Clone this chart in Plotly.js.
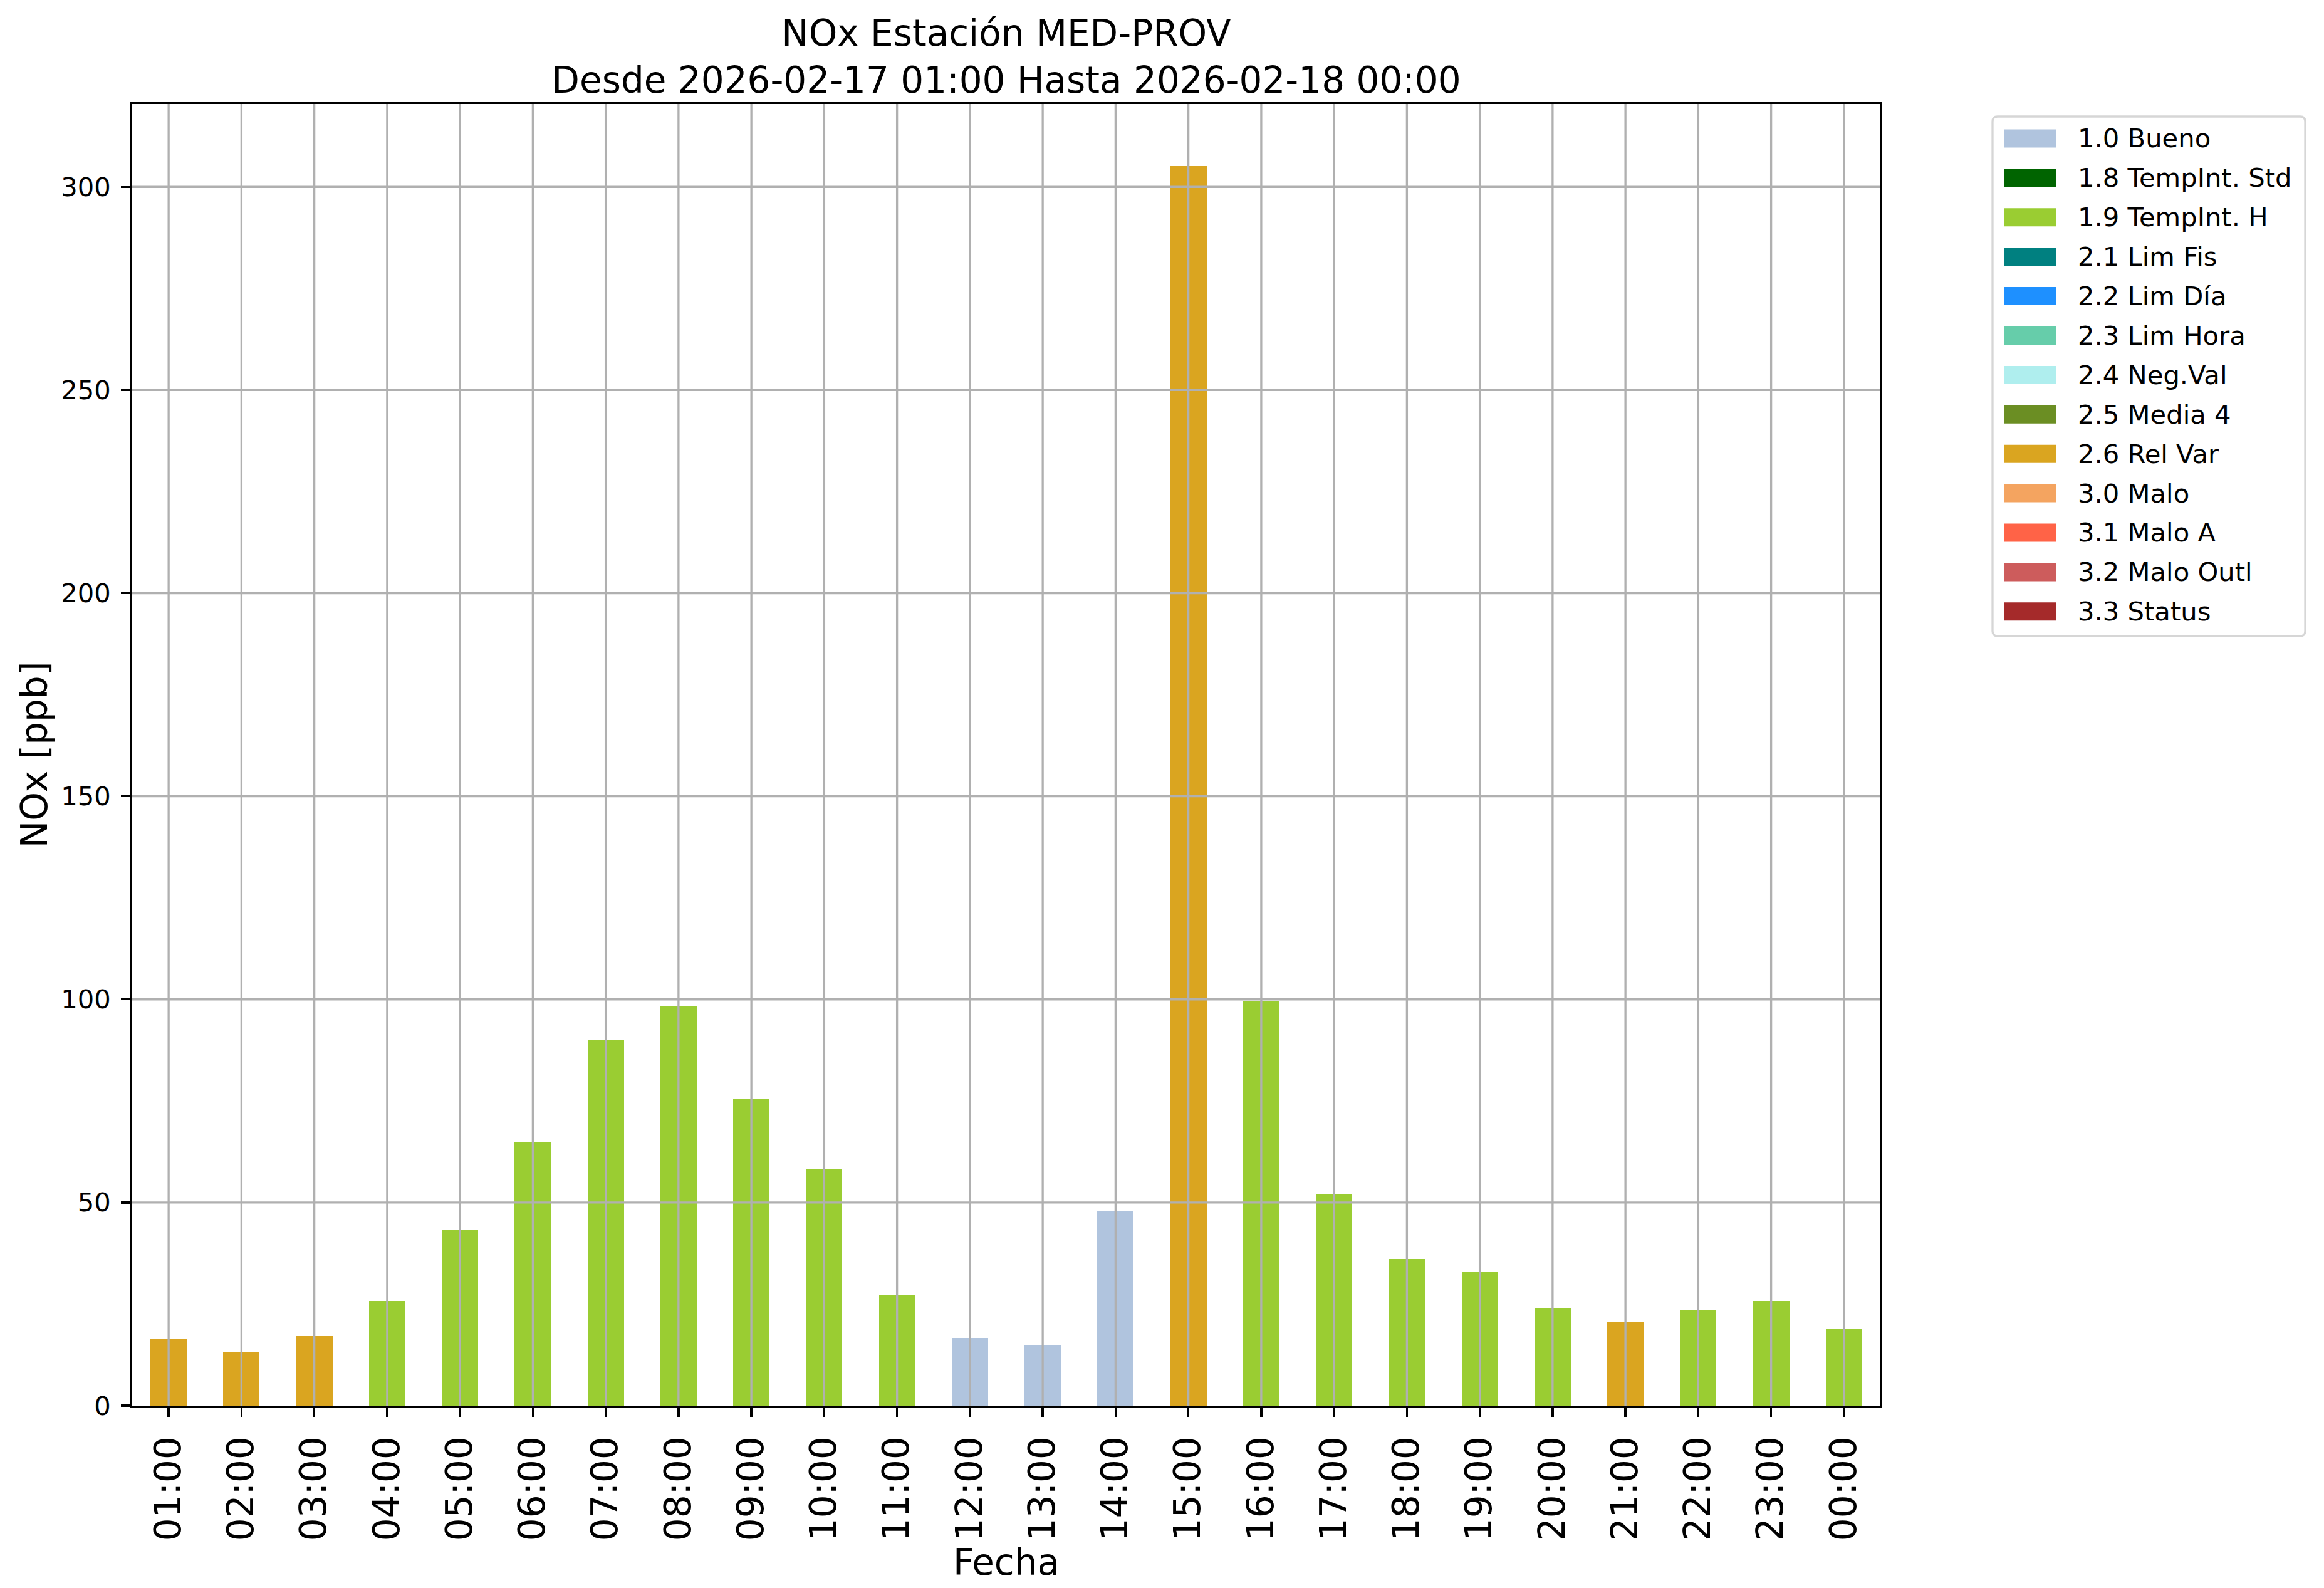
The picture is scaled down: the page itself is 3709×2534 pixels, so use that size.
<!DOCTYPE html>
<html>
<head>
<meta charset="utf-8">
<script src="https://cdn.plot.ly/plotly-3.0.1.min.js"></script>
<style>html,body{margin:0;padding:0;background:#fff;}</style>
</head>
<body>
<div id="chart" style="width:3709px;height:2534px;"></div>
<script>
// ---- DATA ----
const hours = ["01:00","02:00","03:00","04:00","05:00","06:00","07:00","08:00","09:00","10:00","11:00","12:00",
               "13:00","14:00","15:00","16:00","17:00","18:00","19:00","20:00","21:00","22:00","23:00","00:00"];
const noxValues = [16.4, 13.2, 17.2, 25.7, 43.3, 65.0, 90.1, 98.4, 75.6, 58.2, 27.1, 16.7,
                   14.9, 48.0, 305.1, 99.7, 52.2, 36.1, 32.8, 24.0, 20.6, 23.4, 25.7, 19.0];
const hourFlags = ["2.6 Rel Var","2.6 Rel Var","2.6 Rel Var","1.9 TempInt. H","1.9 TempInt. H","1.9 TempInt. H",
                   "1.9 TempInt. H","1.9 TempInt. H","1.9 TempInt. H","1.9 TempInt. H","1.9 TempInt. H","1.0 Bueno",
                   "1.0 Bueno","1.0 Bueno","2.6 Rel Var","1.9 TempInt. H","1.9 TempInt. H","1.9 TempInt. H",
                   "1.9 TempInt. H","1.9 TempInt. H","2.6 Rel Var","1.9 TempInt. H","1.9 TempInt. H","1.9 TempInt. H"];
const flagCategories = ["1.0 Bueno","1.8 TempInt. Std","1.9 TempInt. H","2.1 Lim Fis","2.2 Lim Día","2.3 Lim Hora",
                        "2.4 Neg.Val","2.5 Media 4","2.6 Rel Var","3.0 Malo","3.1 Malo A","3.2 Malo Outl","3.3 Status"];
const flagColors = ["#B0C4DE","#006400","#9ACD32","#008080","#1E90FF","#66CDAA",
                    "#AFEEEE","#6B8E23","#DAA520","#F4A460","#FF6347","#CD5C5C","#A52A2A"];
const yTicks = [0, 50, 100, 150, 200, 250, 300];
const titleText = "NOx Estación MED-PROV<br>Desde 2026-02-17 01:00 Hasta 2026-02-18 00:00";

// ---- LAYOUT GEOMETRY (pixels) ----
const W = 3709, H = 2534;
const L = 211, R = 3001, T = 166, B = 2243;
const pw = R - L, ph = B - T;
const px2x = p => (p - L) / pw;
const py2y = p => (B - p) / ph;
const FONT = "DejaVu Sans, Liberation Sans, sans-serif";
const LW = 3.3;

// ---- TRACES ----
const traces = flagCategories.map((cat, k) => ({
  type: "bar",
  name: cat,
  x: hours,
  y: noxValues.map((v, i) => hourFlags[i] === cat ? v : null),
  width: 0.5,
  marker: {color: flagColors[k], line: {width: 0}},
  showlegend: false,
  hovertemplate: "%{x}: %{y} ppb<extra>" + cat + "</extra>"
}));

// ---- GRID (drawn above bars like matplotlib) ----
const shapes = [];
hours.forEach((h, i) => {
  shapes.push({type: "line", xref: "x", yref: "paper", x0: i, x1: i, y0: 0, y1: 1,
               line: {color: "#b0b0b0", width: LW}, layer: "above"});
});
yTicks.filter(v => v > 0).forEach(v => {
  shapes.push({type: "line", xref: "paper", yref: "y", x0: 0, x1: 1, y0: v, y1: v,
               line: {color: "#b0b0b0", width: LW}, layer: "above"});
});

// ---- MANUAL LEGEND ----
const annotations = [];
const lgX0 = 3180, lgX1 = 3679, lgY0 = 186, lgY1 = 1015, rad = 8;
const P = (x, y) => px2x(x) + "," + py2y(y);
const boxPath = "M" + P(lgX0 + rad, lgY0) + " L" + P(lgX1 - rad, lgY0) +
  " Q" + P(lgX1, lgY0) + " " + P(lgX1, lgY0 + rad) +
  " L" + P(lgX1, lgY1 - rad) + " Q" + P(lgX1, lgY1) + " " + P(lgX1 - rad, lgY1) +
  " L" + P(lgX0 + rad, lgY1) + " Q" + P(lgX0, lgY1) + " " + P(lgX0, lgY1 - rad) +
  " L" + P(lgX0, lgY0 + rad) + " Q" + P(lgX0, lgY0) + " " + P(lgX0 + rad, lgY0) + " Z";
shapes.push({type: "path", xref: "paper", yref: "paper", path: boxPath,
             fillcolor: "rgba(255,255,255,0.8)", line: {color: "#d6d6d6", width: LW}, layer: "above"});
const rowY0 = 221, rowStep = 62.9;
flagCategories.forEach((cat, k) => {
  const cy = rowY0 + k * rowStep;
  shapes.push({type: "rect", xref: "paper", yref: "paper",
               x0: px2x(3198), x1: px2x(3281), y0: py2y(cy - 14.5), y1: py2y(cy + 14.5),
               fillcolor: flagColors[k], line: {width: 0}, layer: "above"});
  annotations.push({xref: "paper", yref: "paper", x: px2x(3314), y: py2y(cy),
                    xanchor: "left", yanchor: "middle", showarrow: false, text: cat,
                    font: {family: FONT, size: 41.7, color: "#000"}});
});

const layout = {
  width: W, height: H,
  paper_bgcolor: "#fff", plot_bgcolor: "#fff",
  margin: {l: L, r: W - R, t: T, b: H - B, pad: 0},
  font: {family: FONT, color: "#000"},
  title: {
    text: titleText,
    font: {family: FONT, size: 58, color: "#000"},
    x: (L + R) / 2 / W, xanchor: "center", xref: "container",
    y: 1 - 73 / H, yanchor: "middle", yref: "container"
  },
  barmode: "stack",
  bargap: 0,
  showlegend: false,
  xaxis: {
    type: "category",
    range: [-0.5, hours.length - 0.5],
    tickmode: "array", tickvals: hours, ticktext: hours,
    tickangle: -90,
    tickfont: {family: FONT, size: 58, color: "#000"},
    ticks: "outside", ticklen: 14.6, tickwidth: LW, tickcolor: "#000",
    ticklabelstandoff: 8,
    showgrid: false, zeroline: false,
    showline: true, mirror: true, linecolor: "#000", linewidth: LW,
    layer: "above traces",
    automargin: true,
    title: {text: "Fecha", font: {family: FONT, size: 58, color: "#000"}, standoff: 0},
    fixedrange: true
  },
  yaxis: {
    range: [0, 320.4],
    tickmode: "array", tickvals: yTicks,
    tickfont: {family: FONT, size: 41.7, color: "#000"},
    ticks: "outside", ticklen: 14.6, tickwidth: LW, tickcolor: "#000",
    ticklabelstandoff: 8,
    showgrid: false, zeroline: false,
    showline: true, mirror: true, linecolor: "#000", linewidth: LW,
    layer: "above traces",
    title: {text: "NOx [ppb]", font: {family: FONT, size: 58, color: "#000"}, standoff: 4},
    fixedrange: true
  },
  shapes: shapes,
  annotations: annotations
};

Plotly.newPlot("chart", traces, layout, {staticPlot: true, displayModeBar: false});
</script>
</body>
</html>
